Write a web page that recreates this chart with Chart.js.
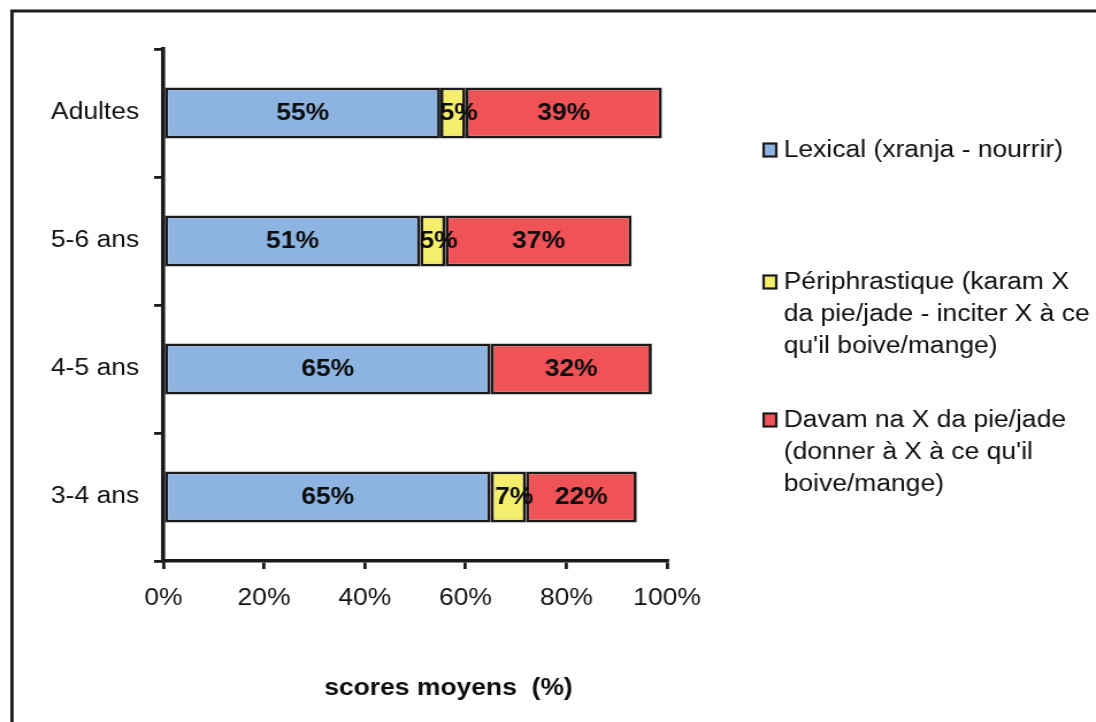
<!DOCTYPE html>
<html>
<head>
<meta charset="utf-8">
<script src="https://cdn.jsdelivr.net/npm/chart.js@4"></script>
<style>
  html, body { margin: 0; padding: 0; background: #fff; overflow: hidden; }
  /* the whole figure is drawn narrow and stretched sideways */
  #wrap { position: absolute; left: 0; top: 0; width: 953px; height: 722px;
          transform: scale(1.15, 1); transform-origin: 0 0; }
</style>
</head>
<body>
<div id="wrap"><canvas id="scoreChart"></canvas></div>
<script>
const categories = ["Adultes", "5-6 ans", "4-5 ans", "3-4 ans"];
const lexical = [55, 51, 65, 65];
const periphrastique = [5, 5, 0, 7];
const davam = [39, 37, 32, 22];
const seriesNames = [
  "Lexical (xranja - nourrir)",
  "Périphrastique (karam X\nda pie/jade - inciter X à ce\nqu'il boive/mange)",
  "Davam na X da pie/jade\n(donner à X à ce qu'il\nboive/mange)"
];
const seriesColors = ["#8db3e0", "#f5ee6c", "#ef5257"];
const xTicks = [0, 20, 40, 60, 80, 100];
const axisTitle = "scores moyens  (%)";

const ink = "#1c1a1b";
const fontFamily = '"Liberation Sans", Arial, sans-serif';
Chart.defaults.font.family = fontFamily;
Chart.defaults.color = "#111";

// percentages written inside each segment
const segmentLabels = {
  id: "segmentLabels",
  afterDatasetsDraw(chart) {
    const ctx = chart.ctx;
    ctx.save();
    ctx.font = "bold 23px " + fontFamily;
    ctx.fillStyle = "#0d0d0d";
    ctx.textAlign = "center";
    ctx.textBaseline = "middle";
    chart.data.datasets.forEach((ds, i) => {
      chart.getDatasetMeta(i).data.forEach((bar, j) => {
        const v = ds.data[j];
        if (!v) return;
        const p = bar.getProps(["x", "y", "base"], true);
        // the narrow yellow labels sit a little to the right
        const shift = v < 10 ? 5 : 0;
        ctx.fillText(v + "%", (p.x + p.base) / 2 + shift, p.y + 1);
      });
    });
    ctx.restore();
  }
};

// outer frame, legend and axis title
const decorations = {
  id: "decorations",
  afterDraw(chart) {
    const ctx = chart.ctx;
    ctx.save();
    ctx.strokeStyle = ink;
    ctx.lineWidth = 2.8;
    ctx.beginPath();
    ctx.moveTo(10.4, 722);
    ctx.lineTo(10.4, 11);
    ctx.lineTo(chart.width, 11);
    ctx.stroke();

    const legendTop = [150, 282, 420];
    ctx.font = "23px " + fontFamily;
    ctx.textBaseline = "middle";
    ctx.textAlign = "left";
    seriesNames.forEach((name, i) => {
      const y0 = legendTop[i];
      ctx.fillStyle = seriesColors[i];
      ctx.fillRect(664, y0 - 6.5, 11, 13);
      ctx.lineWidth = 2.2;
      ctx.strokeStyle = ink;
      ctx.strokeRect(664, y0 - 6.5, 11, 13);
      ctx.fillStyle = "#0d0d0d";
      name.split("\n").forEach((line, k) => {
        ctx.fillText(line, 681.5, y0 + 1 + k * 32);
      });
    });

    ctx.font = "bold 23px " + fontFamily;
    ctx.textAlign = "center";
    ctx.fillText(axisTitle, 390, 689);
    ctx.restore();
  }
};

new Chart("scoreChart", {
  type: "bar",
  data: {
    labels: categories,
    datasets: [lexical, periphrastique, davam].map((values, i) => ({
      label: seriesNames[i],
      data: values,
      backgroundColor: seriesColors[i],
      borderColor: ink,
      borderWidth: 2.8,
      borderSkipped: false,
      barPercentage: 0.4,
      categoryPercentage: 1
    }))
  },
  options: {
    indexAxis: "y",
    responsive: true,
    maintainAspectRatio: false,
    animation: false,
    layout: { padding: { left: 0, top: 49, right: 373, bottom: 0 } },
    plugins: {
      legend: { display: false },
      tooltip: { enabled: false }
    },
    scales: {
      x: {
        stacked: true,
        min: 0,
        max: 100,
        afterFit(scale) { scale.height = 161; },
        afterBuildTicks(scale) { scale.ticks = xTicks.map(v => ({ value: v })); },
        ticks: {
          callback: v => v + "%",
          font: { size: 23 },
          color: "#111",
          padding: 16,
          maxRotation: 0
        },
        grid: { drawOnChartArea: false, drawTicks: true, tickLength: 8, color: ink, lineWidth: 2.8 },
        border: { display: true, color: ink, width: 3.6 }
      },
      y: {
        stacked: true,
        afterFit(scale) { scale.width = 142; },
        ticks: { font: { size: 23 }, color: "#111", padding: 13 },
        grid: { drawOnChartArea: false, drawTicks: true, tickLength: 8, color: ink, lineWidth: 2.8, offset: true },
        border: { display: true, color: ink, width: 3.6 }
      }
    }
  },
  plugins: [segmentLabels, decorations]
});
</script>
</body>
</html>
